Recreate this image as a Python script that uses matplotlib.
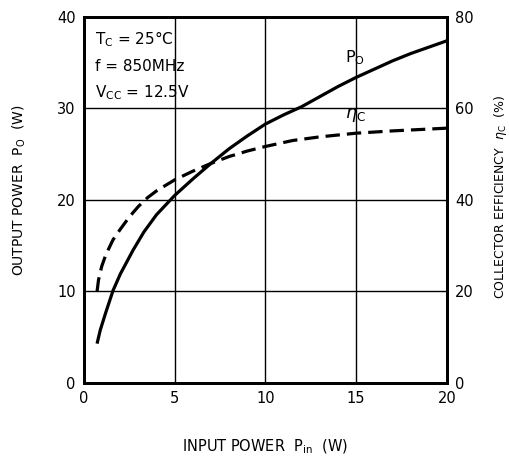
import matplotlib
matplotlib.use("Agg")
import matplotlib.pyplot as plt

# input power (W) for the output power curve
pin = [0.72, 0.9, 1.2, 1.6, 2.0, 2.7, 3.3, 4.0, 5.0, 6.0, 7.0, 8.0, 9.0,
       10.0, 11.0, 12.0, 13.0, 14.0, 15.0, 16.0, 17.0, 18.0, 19.0, 20.0]
# output power (W)
po = [4.3, 5.8, 7.7, 10.1, 11.9, 14.5, 16.5, 18.4, 20.5, 22.3, 24.0, 25.6, 27.0,
      28.3, 29.3, 30.2, 31.3, 32.4, 33.4, 34.3, 35.2, 36.0, 36.7, 37.4]
# input power (W) for the efficiency curve
eta_pin = [0.72, 0.8, 0.97, 1.2, 1.6, 2.0, 2.5, 3.0, 3.5, 4.0, 5.0, 6.0, 7.0,
           8.0, 9.0, 10.0, 11.5, 13.0, 15.0, 17.0, 20.0]
# collector efficiency (%)
eta = [20.0, 22.5, 25.4, 28.0, 31.3, 33.6, 36.3, 38.6, 40.5, 42.0, 44.4, 46.3, 48.0,
       49.5, 50.7, 51.7, 53.0, 53.8, 54.6, 55.1, 55.7]

plt.rcParams['font.family'] = ['DejaVu Sans']
fig = plt.figure(figsize=(5.09, 4.59), dpi=100)
ax = fig.add_axes([0.165, 0.1656, 0.713, 0.7974])
ax2 = ax.twinx()

ax.plot(pin, po, color='black', lw=2.3, solid_capstyle='butt')
ax2.plot(eta_pin, eta, color='black', lw=2.3, dashes=(4.5, 2.2))

ax.set_xlim(0, 20)
ax.set_ylim(0, 40)
ax2.set_ylim(0, 80)
ax.set_xticks([0, 5, 10, 15, 20])
ax.set_yticks([0, 10, 20, 30, 40])
ax2.set_yticks([0, 20, 40, 60, 80])
ax.grid(True, color='black', lw=1.0)
ax.tick_params(length=0, labelsize=10.5, pad=6)
ax2.tick_params(length=0, labelsize=10.5, pad=6)
for a in (ax, ax2):
    for s in a.spines.values():
        s.set_linewidth(2.0)

ax.text(0.6, 37.0, r'T$_{\rm C}$ = 25°C', fontsize=11)
ax.text(0.6, 34.1, 'f = 850MHz', fontsize=11)
ax.text(0.6, 31.2, r'V$_{\rm CC}$ = 12.5V', fontsize=11)
ax.text(14.4, 35.0, r'P$_{\rm O}$', fontsize=11.5)
ax.text(14.4, 29.0, r'$\eta_{\rm C}$', fontsize=12.5)

fig.text(0.038, 0.585, r'OUTPUT POWER  P$_{\rm O}$  (W)', rotation=90,
         ha='center', va='center', fontsize=10)
fig.text(0.521, 0.027, r'INPUT POWER  P$_{\rm in}$  (W)', ha='center',
         va='center', fontsize=10.5)
fig.text(0.984, 0.57, r'COLLECTOR EFFICIENCY  $\eta_{\rm C}$  (%)', rotation=90,
         ha='center', va='center', fontsize=9)

fig.savefig('out.png', dpi=100)
